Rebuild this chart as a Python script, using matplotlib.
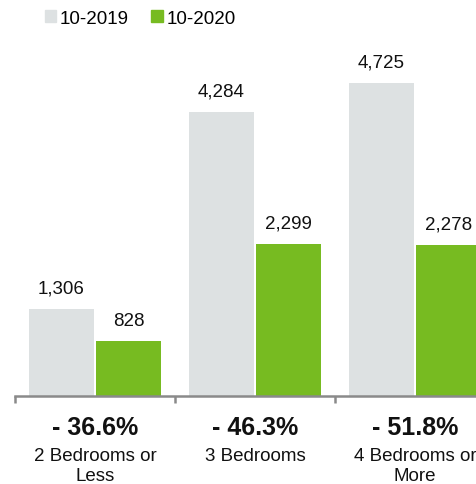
import numpy as np
import matplotlib.pyplot as plt
from matplotlib.patches import Patch

plt.rcParams['font.family'] = ['Liberation Sans', 'DejaVu Sans']

categories = ['2 Bedrooms or\nLess', '3 Bedrooms', '4 Bedrooms or\nMore']
sales_2019 = [1306, 4284, 4725]
sales_2020 = [828, 2299, 2278]
changes = ['- 36.6%', '- 46.3%', '- 51.8%']
series = ['10-2019', '10-2020']

gray = '#dde1e2'
green = '#77bb21'

fig = plt.figure(figsize=(4.77, 4.85), dpi=100)
# axes run a little past the right edge so the last bar gets cut off
ax = fig.add_axes([15 / 477, 88 / 485, 480 / 477, 397 / 485])

x = np.arange(len(categories))
w = 0.405
off = 0.21
b1 = ax.bar(x - off, sales_2019, w, color=gray)
b2 = ax.bar(x + off, sales_2020, w, color=green)

for bars, vals in [(b1, sales_2019), (b2, sales_2020)]:
    for b, v in zip(bars, vals):
        ax.annotate(f'{v:,}', (b.get_x() + b.get_width() / 2, v),
                    xytext=(0, 9), textcoords='offset points',
                    ha='center', va='bottom', fontsize=13.5, color='#111111')

ax.set_xlim(-0.5, 2.5)
ax.set_ylim(0, 5993)

for s in ['top', 'right', 'left']:
    ax.spines[s].set_visible(False)
ax.spines['bottom'].set_color('#8a8a8a')
ax.spines['bottom'].set_linewidth(1.8)
ax.set_yticks([])
ax.set_xticks([-0.5, 0.5, 1.5, 2.5])
ax.set_xticklabels([])
ax.tick_params(axis='x', length=5, width=1.8, color='#8a8a8a')

for i, (c, ch) in enumerate(zip(categories, changes)):
    ax.text(i, -0.078, ch, transform=ax.get_xaxis_transform(), ha='center',
            va='center', fontsize=18, fontweight='bold', color='#111111')
    ax.text(i, -0.128, c, transform=ax.get_xaxis_transform(), ha='center',
            va='top', fontsize=13.5, color='#111111', linespacing=1.25)

handles = [Patch(color=gray), Patch(color=green)]
fig.legend(handles, series, loc='upper left', bbox_to_anchor=(28 / 477, 1.012),
           ncol=2, frameon=False, fontsize=13.5, handlelength=0.6,
           handleheight=0.6, handletextpad=0.2, columnspacing=1.2)

fig.savefig('out.png', dpi=100)
